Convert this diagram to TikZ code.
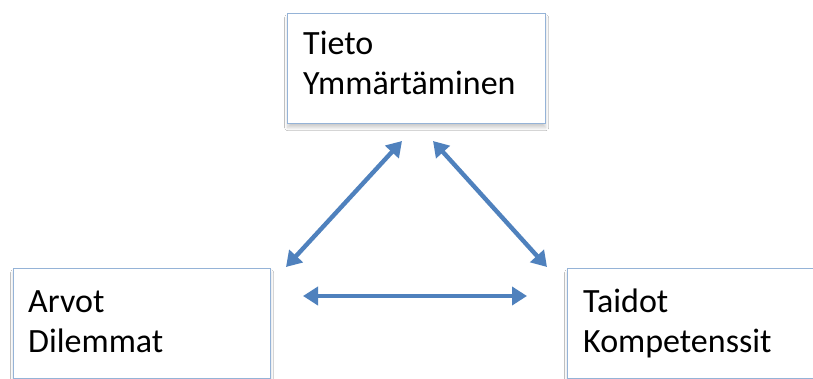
\documentclass[tikz,border=0pt]{standalone}
\usepackage{fontspec}
\setmainfont{Carlito}
\usetikzlibrary{arrows.meta,shadows.blur}
\definecolor{arrowblue}{HTML}{4F81BD}
\definecolor{boxline}{HTML}{95B3D7}
\begin{document}
\begin{tikzpicture}[x=1pt,y=-1pt,
  box/.style={draw=boxline, line width=1.3pt, fill=white, rectangle, inner sep=0pt,
    anchor=north west, blur shadow={shadow xshift=0pt, shadow yshift=-4pt, shadow blur radius=3pt, shadow blur steps=10, shadow opacity=20}},
  label/.style={anchor=base west, inner sep=0pt, text width=240pt, align=left,
    font=\fontsize{34}{40}\selectfont, text=black},
  link/.style={draw=arrowblue, line width=4.4pt, {Triangle[length=15pt,width=18pt]}-{Triangle[length=15pt,width=18pt]}}
]
\useasboundingbox (0,0) rectangle (813,379);
\fill[white] (0,0) rectangle (813,379);
\node[box, minimum width=258pt, minimum height=110pt] (top) at (287,13) {};
\node[box, minimum width=257pt, minimum height=110pt] (left) at (13,268) {};
\node[box, minimum width=270pt, minimum height=110pt] (right) at (567,268) {};
\node[label] (toptext) at ([xshift=16pt,yshift=-42pt]top.north west) {Tieto\\Ymmärtäminen};
\node[label] (lefttext) at ([xshift=15pt,yshift=-44pt]left.north west) {Arvot\\Dilemmat};
\node[label] (righttext) at ([xshift=16pt,yshift=-44pt]right.north west) {Taidot\\Kompetenssit};
\coordinate (tl) at (402,141);
\coordinate (tr) at (433,141);
\coordinate (bl) at (286,267);
\coordinate (br) at (547,267);
\coordinate (hl) at (303,296);
\coordinate (hr) at (527,296);
\draw[link] (bl) -- (tl);
\draw[link] (tr) -- (br);
\draw[link] (hl) -- (hr);
\end{tikzpicture}
\end{document}
